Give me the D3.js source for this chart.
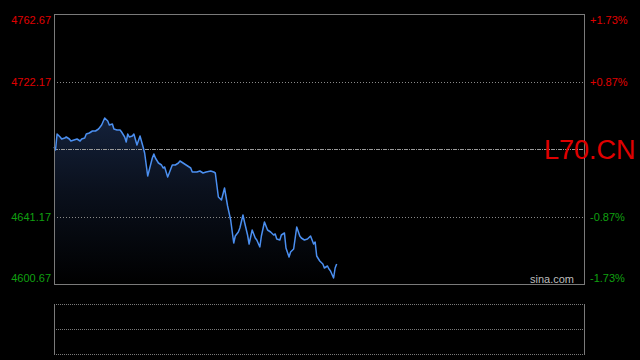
<!DOCTYPE html>
<html>
<head>
<meta charset="utf-8">
<script src="https://cdn.jsdelivr.net/npm/d3@7"></script>
<style>
  html, body { margin: 0; padding: 0; background: #000; }
  svg { display: block; }
  .lbl { font-family: "Liberation Sans", Arial, sans-serif; font-size: 11px; }
</style>
</head>
<body>
<svg id="chart"></svg>
<script>
// minute offsets into the session and last price at that minute
const minutes = [0, 1, 2, 4, 5, 7, 8, 10, 11, 13, 15, 17, 18, 20, 21, 23, 25, 27, 29, 31,
  33, 35, 36, 38, 39, 41, 43, 44, 46, 47, 48, 49, 51, 52, 54, 56, 58, 59, 61, 62,
  64, 65, 66, 68, 70, 71, 72, 74, 76, 77, 79, 81, 82, 84, 86, 89, 90, 93, 95, 97,
  99, 102, 104, 105, 107, 109, 111, 113, 115, 117, 118, 120, 121, 123, 124, 126, 127, 129, 131, 132,
  134, 135, 137, 139, 141, 143, 144, 145, 147, 148, 150, 151, 153, 154, 156, 157, 158, 160, 161, 163,
  165, 167, 169, 170, 171, 173, 175, 176, 178, 179, 180, 182, 183, 184]
const prices = [4682.87, 4681.07, 4690.67, 4688.87, 4687.67, 4688.27, 4688.87, 4687.67, 4686.47, 4687.07,
  4687.67, 4686.47, 4687.67, 4688.27, 4690.67, 4691.27, 4692.47, 4692.47, 4693.67, 4696.07,
  4700.27, 4698.47, 4696.07, 4696.67, 4693.67, 4693.07, 4693.07, 4691.87, 4688.87, 4685.87,
  4690.67, 4688.87, 4689.47, 4690.67, 4684.07, 4689.47, 4682.87, 4679.27, 4665.47, 4669.07,
  4676.27, 4678.67, 4676.27, 4673.27, 4672.07, 4670.27, 4670.87, 4664.87, 4669.67, 4672.07,
  4672.07, 4673.27, 4674.47, 4673.27, 4672.07, 4670.27, 4667.87, 4667.87, 4668.47, 4667.27,
  4667.87, 4668.47, 4667.87, 4667.27, 4652.87, 4651.07, 4658.27, 4647.47, 4639.07, 4625.27,
  4629.47, 4631.87, 4634.27, 4642.07, 4637.87, 4630.07, 4624.67, 4633.07, 4628.27, 4627.07,
  4622.87, 4629.47, 4637.87, 4633.07, 4631.87, 4630.07, 4630.67, 4627.67, 4627.07, 4630.07,
  4631.27, 4622.27, 4616.87, 4619.87, 4621.67, 4628.27, 4634.87, 4629.47, 4628.27, 4627.07,
  4627.67, 4629.47, 4624.67, 4625.87, 4617.47, 4614.47, 4612.67, 4610.27, 4611.47, 4609.67,
  4608.47, 4604.27, 4610.27, 4612.67]

const sessionMinutes = 345
const prevClose = 4681.67
const priceTicks = [4762.67, 4722.17, 4681.67, 4641.17, 4600.67]
const pctTicks = ['+1.73%', '+0.87%', '', '-0.87%', '-1.73%']
const symbol = 'L70.CN'
const brand = 'sina.com'

const W = 640, H = 360
const box = { left: 54, right: 584, top: 14, bottom: 284 }
const volBox = { top: 304, bottom: 354 }

const data = minutes.map((m, i) => ({ m: m, p: prices[i] }))

const svg = d3.select('#chart').attr('width', W).attr('height', H)
svg.append('rect').attr('width', W).attr('height', H).attr('fill', '#000')

const x = d3.scaleLinear().domain([0, sessionMinutes]).range([box.left, box.right])
const y = d3.scaleLinear().domain([priceTicks[4], priceTicks[0]]).range([box.bottom, box.top])

// gradient under the line
const grad = svg.append('defs').append('linearGradient')
  .attr('id', 'fillGrad')
  .attr('gradientUnits', 'userSpaceOnUse')
  .attr('x1', 0).attr('y1', y(d3.max(prices)))
  .attr('x2', 0).attr('y2', box.bottom)
grad.append('stop').attr('offset', '0%').attr('stop-color', '#14213a')
grad.append('stop').attr('offset', '45%').attr('stop-color', '#0a101c')
grad.append('stop').attr('offset', '100%').attr('stop-color', '#000')

const area = d3.area()
  .x(d => x(d.m))
  .y0(box.bottom)
  .y1(d => y(d.p))

svg.append('path').datum(data)
  .attr('fill', 'url(#fillGrad)')
  .attr('d', area)

// grid lines
priceTicks.forEach((t, i) => {
  if (i === 0 || i === 4) return
  const isMid = t === prevClose
  svg.append('line')
    .attr('x1', box.left).attr('x2', box.right)
    .attr('y1', Math.round(y(t)) + 0.5).attr('y2', Math.round(y(t)) + 0.5)
    .attr('stroke', isMid ? '#9a9a9a' : '#8a8a8a')
    .attr('stroke-width', 1)
    .attr('stroke-dasharray', isMid ? '4,1,1,1' : '1,2')
})

// price line
const line = d3.line()
  .x(d => x(d.m))
  .y(d => y(d.p))

svg.append('path').datum(data)
  .attr('fill', 'none')
  .attr('stroke', '#4b8ff0')
  .attr('stroke-width', 1.5)
  .attr('stroke-linejoin', 'round')
  .attr('d', line)

// frame
svg.append('rect')
  .attr('x', box.left + 0.5).attr('y', box.top + 0.5)
  .attr('width', box.right - box.left).attr('height', box.bottom - box.top)
  .attr('fill', 'none').attr('stroke', '#7a7a7a')

// left price labels and right percent labels
priceTicks.forEach((t, i) => {
  const col = t > prevClose ? '#e00000' : (t < prevClose ? '#10a010' : '#aaa')
  let ty = y(t) + 4
  if (i === 0) ty = box.top + 10
  if (i === 4) ty = box.bottom - 2
  if (t === prevClose) return
  svg.append('text').attr('class', 'lbl')
    .attr('x', box.left - 3).attr('y', ty)
    .attr('text-anchor', 'end').attr('fill', col)
    .text(t.toFixed(2))
  svg.append('text').attr('class', 'lbl')
    .attr('x', box.right + 6).attr('y', ty)
    .attr('fill', col)
    .text(pctTicks[i])
})

// symbol
svg.append('text')
  .attr('x', 544).attr('y', 159)
  .attr('fill', '#e00000')
  .style('font-family', '"Liberation Sans", Arial, sans-serif')
  .style('font-size', '27px')
  .text(symbol)

svg.append('text').attr('class', 'lbl')
  .attr('x', box.right - 10).attr('y', box.bottom - 1)
  .attr('text-anchor', 'end').attr('fill', '#bdbdbd')
  .text(brand)

// lower (volume) panel
const vg = svg.append('g')
;[volBox.top, (volBox.top + volBox.bottom) / 2, volBox.bottom].forEach(v => {
  vg.append('line')
    .attr('x1', box.left).attr('x2', box.right)
    .attr('y1', Math.round(v) + 0.5).attr('y2', Math.round(v) + 0.5)
    .attr('stroke', '#7a7a7a').attr('stroke-dasharray', '1,1')
})
;[box.left, box.right].forEach(v => {
  vg.append('line')
    .attr('x1', v + 0.5).attr('x2', v + 0.5)
    .attr('y1', volBox.top).attr('y2', volBox.bottom + 1)
    .attr('stroke', '#7a7a7a')
})
</script>
</body>
</html>
